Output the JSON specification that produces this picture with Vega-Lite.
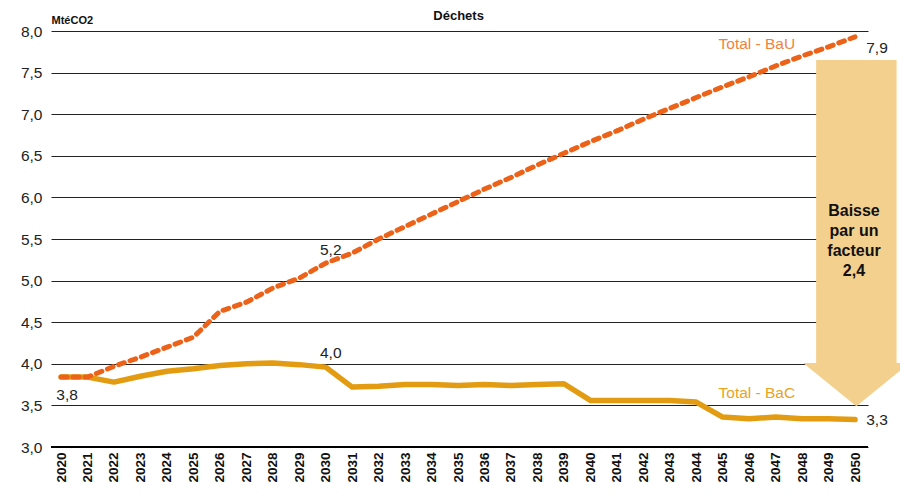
{
  "$schema": "https://vega.github.io/schema/vega-lite/v6.json",
  "width": 817,
  "height": 416,
  "autosize": {"type": "none"},
  "padding": {"left": 51, "top": 31, "right": 32, "bottom": 50},
  "background": "white",
  "config": {
    "view": {"stroke": null},
    "font": "Liberation Sans",
    "text": {"font": "Liberation Sans"},
    "axisX": {
      "labelOverlap": false,
      "labelFlush": false,
      "labelBound": false,
      "tickCount": 31,
      "values": [2020, 2021, 2022, 2023, 2024, 2025, 2026, 2027, 2028, 2029, 2030, 2031, 2032, 2033, 2034, 2035, 2036, 2037, 2038, 2039, 2040, 2041, 2042, 2043, 2044, 2045, 2046, 2047, 2048, 2049, 2050]
    }
  },
  "datasets": {
    "series": [
      {"year": 2020, "bau": 3.84, "bac": 3.84},
      {"year": 2021, "bau": 3.84, "bac": 3.84},
      {"year": 2022, "bau": 3.97, "bac": 3.78},
      {"year": 2023, "bau": 4.08, "bac": 3.85},
      {"year": 2024, "bau": 4.2, "bac": 3.91},
      {"year": 2025, "bau": 4.32, "bac": 3.94},
      {"year": 2026, "bau": 4.63, "bac": 3.98},
      {"year": 2027, "bau": 4.74, "bac": 4.0},
      {"year": 2028, "bau": 4.91, "bac": 4.01},
      {"year": 2029, "bau": 5.03, "bac": 3.99},
      {"year": 2030, "bau": 5.21, "bac": 3.96},
      {"year": 2031, "bau": 5.33, "bac": 3.72},
      {"year": 2032, "bau": 5.5, "bac": 3.73},
      {"year": 2033, "bau": 5.65, "bac": 3.75},
      {"year": 2034, "bau": 5.8, "bac": 3.75},
      {"year": 2035, "bau": 5.95, "bac": 3.74},
      {"year": 2036, "bau": 6.1, "bac": 3.75},
      {"year": 2037, "bau": 6.24, "bac": 3.74},
      {"year": 2038, "bau": 6.39, "bac": 3.75},
      {"year": 2039, "bau": 6.53, "bac": 3.76},
      {"year": 2040, "bau": 6.67, "bac": 3.56},
      {"year": 2041, "bau": 6.8, "bac": 3.56},
      {"year": 2042, "bau": 6.94, "bac": 3.56},
      {"year": 2043, "bau": 7.07, "bac": 3.56},
      {"year": 2044, "bau": 7.2, "bac": 3.54},
      {"year": 2045, "bau": 7.33, "bac": 3.36},
      {"year": 2046, "bau": 7.45, "bac": 3.34},
      {"year": 2047, "bau": 7.58, "bac": 3.36},
      {"year": 2048, "bau": 7.7, "bac": 3.34},
      {"year": 2049, "bau": 7.81, "bac": 3.34},
      {"year": 2050, "bau": 7.93, "bac": 3.33}
    ],
    "head": [
      {"ax": 2048.04, "top": 4.01, "bot": 4.01},
      {"ax": 2050.05, "top": 4.01, "bot": 3.49},
      {"ax": 2052.06, "top": 4.01, "bot": 4.01}
    ],
    "values": [
      {"x": 2020.23, "y": 3.625, "t": "3,8"},
      {"x": 2030.19, "y": 4.13, "t": "4,0"},
      {"x": 2030.19, "y": 5.37, "t": "5,2"},
      {"x": 2050.83, "y": 7.8, "t": "7,9"},
      {"x": 2050.83, "y": 3.32, "t": "3,3"}
    ]
  },
  "layer": [
    {
      "data": {"values": [{"x1": 2048.53, "x2": 2051.57, "y1": 4.01, "y2": 7.65}]},
      "mark": {"type": "rect", "fill": "#F4D08F"},
      "encoding": {
        "x": {
          "field": "x1",
          "type": "quantitative",
          "scale": {"domain": [2019.62, 2050.49], "nice": false, "zero": false},
          "axis": {
            "values": [2020, 2021, 2022, 2023, 2024, 2025, 2026, 2027, 2028, 2029, 2030, 2031, 2032, 2033, 2034, 2035, 2036, 2037, 2038, 2039, 2040, 2041, 2042, 2043, 2044, 2045, 2046, 2047, 2048, 2049, 2050],
            "tickCount": 31,
            "format": "d",
            "labelAngle": -90,
            "labelAlign": "right",
            "labelBaseline": "middle",
            "labelFontSize": 13.5,
            "labelFontWeight": "bold",
            "labelFont": "Liberation Sans",
            "labelColor": "#111",
            "labelPadding": 5,
            "labelOverlap": false,
            "labelFlush": false,
            "ticks": false,
            "domain": false,
            "grid": false,
            "title": null
          }
        },
        "x2": {"field": "x2"},
        "y": {
          "field": "y1",
          "type": "quantitative",
          "scale": {"domain": [3, 8], "nice": false, "zero": false},
          "axis": {
            "values": [3, 3.5, 4, 4.5, 5, 5.5, 6, 6.5, 7, 7.5, 8],
            "labelExpr": "replace(format(datum.value, '.1f'), '.', ',')",
            "labelFontSize": 15.5,
            "labelFont": "Liberation Sans",
            "labelColor": "#222",
            "labelPadding": 9,
            "ticks": false,
            "domain": false,
            "grid": true,
            "gridColor": "#222",
            "gridWidth": 1.2,
            "gridOpacity": 1,
            "title": "MtéCO2",
            "titleAngle": 0,
            "titleAlign": "left",
            "titleBaseline": "alphabetic",
            "titleX": 0,
            "titleY": -8,
            "titleFontSize": 11,
            "titleFontWeight": "bold",
            "titleFont": "Liberation Sans",
            "titleColor": "#111"
          }
        },
        "y2": {"field": "y2"}
      }
    },
    {
      "data": {"name": "head"},
      "mark": {"type": "area", "fill": "#F4D08F"},
      "encoding": {
        "x": {"field": "ax", "type": "quantitative"},
        "y": {"field": "top", "type": "quantitative"},
        "y2": {"field": "bot"}
      }
    },
    {
      "data": {"values": [{"y": 3}]},
      "mark": {"type": "rule", "color": "#000", "strokeWidth": 2},
      "encoding": {"y": {"field": "y", "type": "quantitative"}}
    },
    {
      "data": {"name": "series"},
      "mark": {"type": "line", "color": "#E39C12", "strokeWidth": 5.5, "strokeCap": "round", "strokeJoin": "round"},
      "encoding": {
        "x": {"field": "year", "type": "quantitative"},
        "y": {"field": "bac", "type": "quantitative"}
      }
    },
    {
      "data": {"name": "series"},
      "mark": {"type": "line", "color": "#EC6219", "strokeWidth": 5, "strokeCap": "round", "strokeJoin": "round", "strokeDash": [6, 6]},
      "encoding": {
        "x": {"field": "year", "type": "quantitative"},
        "y": {"field": "bau", "type": "quantitative"}
      }
    },
    {
      "data": {"name": "values"},
      "mark": {"type": "text", "fontSize": 15.5, "color": "#222", "align": "center", "baseline": "middle"},
      "encoding": {
        "x": {"field": "x", "type": "quantitative"},
        "y": {"field": "y", "type": "quantitative"},
        "text": {"field": "t"}
      }
    },
    {
      "data": {"values": [
        {"x": 2046.29, "y": 7.84, "t": "Total - BaU", "c": "bau"},
        {"x": 2046.29, "y": 3.65, "t": "Total - BaC", "c": "bac"}
      ]},
      "mark": {"type": "text", "fontSize": 15.5, "align": "center", "baseline": "middle"},
      "encoding": {
        "x": {"field": "x", "type": "quantitative"},
        "y": {"field": "y", "type": "quantitative"},
        "text": {"field": "t"},
        "color": {"field": "c", "type": "nominal", "scale": {"domain": ["bau", "bac"], "range": ["#F0823F", "#E8A423"]}, "legend": null}
      }
    },
    {
      "data": {"values": [{"x": 2035.02, "y": 8.18, "t": "Déchets"}]},
      "mark": {"type": "text", "fontSize": 13, "fontWeight": "bold", "color": "#111", "align": "center", "baseline": "middle"},
      "encoding": {
        "x": {"field": "x", "type": "quantitative"},
        "y": {"field": "y", "type": "quantitative"},
        "text": {"field": "t"}
      }
    },
    {
      "data": {"values": [{"x": 2049.96, "y": 5.837, "t": ["Baisse", "par un", "facteur", "2,4"]}]},
      "mark": {"type": "text", "fontSize": 16, "fontWeight": "bold", "color": "#111", "align": "center", "baseline": "middle", "lineHeight": 20},
      "encoding": {
        "x": {"field": "x", "type": "quantitative"},
        "y": {"field": "y", "type": "quantitative"},
        "text": {"field": "t"}
      }
    }
  ]
}
